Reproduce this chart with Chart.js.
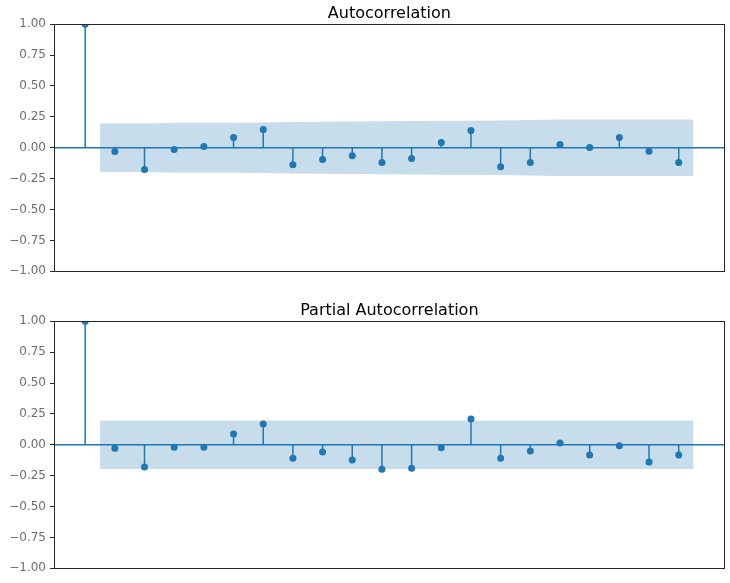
<!DOCTYPE html>
<html>
<head>
<meta charset="utf-8">
<script src="https://cdn.jsdelivr.net/npm/chart.js@4.4.0/dist/chart.umd.min.js"></script>
<style>
  body { margin: 0; background: #fff; }
  #wrap { position: relative; width: 730px; height: 583px; }
  .panel { position: absolute; left: 0; width: 730px; }
</style>
</head>
<body>
<div id="wrap">
  <div class="panel" style="top:0;height:290px"><canvas id="acf"></canvas></div>
  <div class="panel" style="top:290px;height:293px"><canvas id="pacf"></canvas></div>
</div>
<script>
const lags = [0,1,2,3,4,5,6,7,8,9,10,11,12,13,14,15,16,17,18,19,20]
const acfValues = [1.0,-0.03,-0.177,-0.015,0.01,0.083,0.148,-0.137,-0.096,-0.064,-0.12,-0.088,0.042,0.14,-0.153,-0.12,0.026,0.002,0.083,-0.028,-0.12]
const pacfValues = [1.0,-0.027,-0.18,-0.019,-0.019,0.087,0.168,-0.108,-0.059,-0.124,-0.197,-0.189,-0.024,0.208,-0.108,-0.051,0.014,-0.083,-0.008,-0.14,-0.083]
// confidence band, lags 1..20 (first/last point pushed out by half a lag)
const bandLags = [0.5,2,3,4,5,6,7,8,9,10,11,12,13,14,15,16,17,18,19,20.5]
const acfBand = [0.196,0.196,0.202,0.202,0.202,0.204,0.208,0.211,0.213,0.214,0.216,0.218,0.218,0.221,0.225,0.228,0.228,0.228,0.229,0.229]
const pacfBand = [0.196,0.196,0.196,0.196,0.196,0.196,0.196,0.196,0.196,0.196,0.196,0.196,0.196,0.196,0.196,0.196,0.196,0.196,0.196,0.196]
const yTicks = [-1,-0.75,-0.5,-0.25,0,0.25,0.5,0.75,1]

const blue = '#1f77b4'
const xMin = -1.05, xMax = 21.55

const frame = {
  id: 'frame',
  afterDraw(chart) {
    const a = chart.chartArea, c = chart.ctx
    c.save()
    c.strokeStyle = '#262626'
    c.lineWidth = 1
    c.strokeRect(Math.round(a.left) + 0.5, Math.round(a.top) + 0.5, Math.round(a.right - a.left) - 1, Math.round(a.bottom - a.top))
    c.restore()
  }
}

function makeChart(id, title, values, band, pad) {
  const stems = []
  lags.forEach((l, i) => {
    stems.push({x: l, y: 0}, {x: l, y: values[i]}, {x: l, y: null})
  })
  new Chart(document.getElementById(id), {
    type: 'scatter',
    data: {
      datasets: [
        {
          type: 'scatter',
          data: lags.map((l, i) => ({x: l, y: values[i]})),
          pointRadius: 3.5,
          pointBackgroundColor: blue,
          pointBorderWidth: 0,
          clip: 0
        },
        {
          type: 'line',
          data: stems,
          borderColor: blue,
          borderWidth: 1.5,
          pointRadius: 0,
          spanGaps: false,
          clip: 0
        },
        {
          type: 'line',
          data: [{x: xMin, y: 0}, {x: xMax, y: 0}],
          borderColor: blue,
          borderWidth: 1.5,
          pointRadius: 0,
          clip: 0
        },
        {
          type: 'line',
          data: bandLags.map((l, i) => ({x: l, y: band[i]})),
          borderWidth: 0,
          pointRadius: 0,
          backgroundColor: 'rgba(31,119,180,0.25)',
          fill: '+1'
        },
        {
          type: 'line',
          data: bandLags.map((l, i) => ({x: l, y: -band[i]})),
          borderWidth: 0,
          pointRadius: 0,
          fill: false
        }
      ]
    },
    options: {
      responsive: true,
      maintainAspectRatio: false,
      animation: false,
      layout: { padding: { left: 0, right: 5.3, top: 0, bottom: pad.bottom } },
      plugins: {
        legend: { display: false },
        tooltip: { enabled: false },
        title: {
          display: true,
          text: title,
          fullSize: false,
          color: '#000',
          font: { family: 'DejaVu Sans', size: 16, weight: 'normal' },
          padding: { top: pad.top, bottom: pad.tb }
        }
      },
      scales: {
        x: {
          type: 'linear',
          min: xMin,
          max: xMax,
          ticks: { display: false },
          grid: { display: false },
          border: { display: false },
          afterFit: s => { s.height = 0 }
        },
        y: {
          min: -1,
          max: 1,
          afterFit: s => { s.width = 54 },
          afterBuildTicks: s => { s.ticks = yTicks.map(v => ({value: v})) },
          ticks: {
            color: '#6e6e6e',
            font: { family: 'DejaVu Sans', size: 12 },
            padding: 4,
            callback: v => (v < 0 ? '\u2212' : '') + Math.abs(v).toFixed(2)
          },
          grid: { drawOnChartArea: false, tickLength: 4, tickColor: '#262626', tickWidth: 1 },
          border: { display: false }
        }
      }
    },
    plugins: [frame]
  })
}

makeChart('acf', 'Autocorrelation', acfValues, acfBand, {top: 4.5, tb: 0.5, bottom: 18.7})
makeChart('pacf', 'Partial Autocorrelation', pacfValues, pacfBand, {top: 11.6, tb: 0.5, bottom: 14.7})
</script>
</body>
</html>
